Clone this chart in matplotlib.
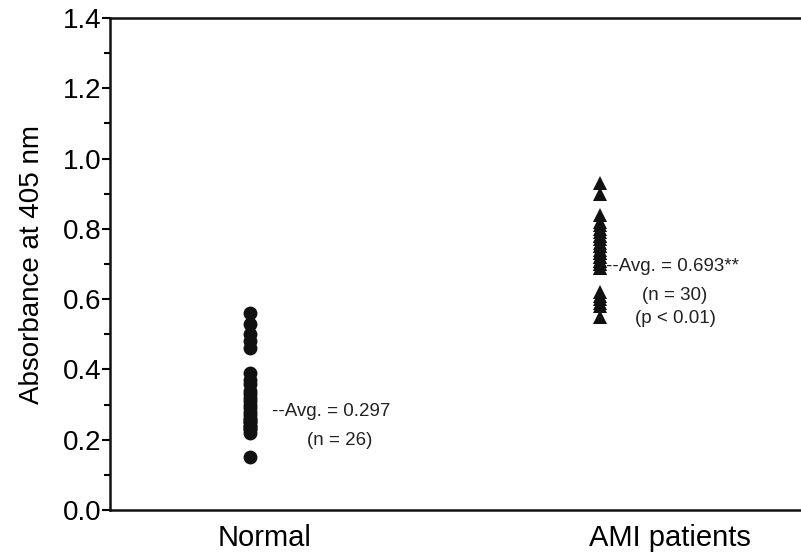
import matplotlib.pyplot as plt

plt.rcParams['font.family'] = ['Liberation Sans', 'DejaVu Sans']

# ==========================================================
# Data
# ==========================================================

groups = ["Normal", "AMI patients"]

normal_values = [
    0.56, 0.53, 0.50, 0.48, 0.46,
    0.39, 0.37, 0.36, 0.34, 0.33, 0.32, 0.31, 0.30, 0.29, 0.28,
    0.27, 0.26, 0.26, 0.25, 0.25, 0.24, 0.24, 0.23, 0.23, 0.22,
    0.15,
]

ami_values = [
    0.93, 0.90,
    0.84, 0.82, 0.81, 0.80, 0.79, 0.78, 0.78, 0.77, 0.76, 0.75, 0.75,
    0.74, 0.73, 0.73, 0.72, 0.72, 0.71, 0.71, 0.70, 0.70, 0.69, 0.69,
    0.62, 0.61, 0.60, 0.59, 0.58, 0.55,
]

normal_avg = 0.297
ami_avg = 0.693

normal_notes = ["--Avg. = 0.297", "(n = 26)"]
ami_notes = ["--Avg. = 0.693**", "(n = 30)", "(p < 0.01)"]

# ==========================================================
# Plot
# ==========================================================

fig = plt.figure(figsize=(8.01, 5.58), dpi=100)
ax = fig.add_axes([0.1373, 0.086, 0.8627, 0.8817])

ax.plot([1] * len(normal_values), normal_values, "o",
        color="#111111", markersize=10, markeredgewidth=0)
ax.plot([2] * len(ami_values), ami_values, "^",
        color="#111111", markersize=10, markeredgewidth=0)

# annotations
ax.text(1.063, normal_avg - 0.018, normal_notes[0], fontsize=13.5,
        ha="left", va="center", color="#222222")
ax.text(1.257, normal_avg - 0.018 - 0.08, normal_notes[1], fontsize=13.5,
        ha="center", va="center", color="#222222")

ax.text(2.017, ami_avg, ami_notes[0], fontsize=13.5,
        ha="left", va="center", color="#222222")
ax.text(2.214, ami_avg - 0.083, ami_notes[1], fontsize=13.5,
        ha="center", va="center", color="#222222")
ax.text(2.214, ami_avg - 0.148, ami_notes[2], fontsize=13.5,
        ha="center", va="center", color="#222222")

ax.set_xlim(0.6, 2.574)
ax.set_ylim(0, 1.4)

ax.set_xticks([1.043, 2.2])
ax.set_xticklabels(groups, fontsize=21)
ax.tick_params(axis="x", length=0, pad=10)

ax.set_yticks([0.0, 0.2, 0.4, 0.6, 0.8, 1.0, 1.2, 1.4])
ax.set_yticklabels(["0.0", "0.2", "0.4", "0.6", "0.8", "1.0", "1.2", "1.4"],
                   fontsize=20)
ax.set_yticks([0.1, 0.3, 0.5, 0.7, 0.9, 1.1, 1.3], minor=True)
ax.tick_params(axis="y", which="major", direction="out", length=6, width=1.5,
               pad=0)
ax.tick_params(axis="y", which="minor", direction="out", length=4, width=1.5)

ax.set_ylabel("Absorbance at 405 nm", fontsize=20, labelpad=13)

ax.spines["right"].set_visible(False)
for side in ["left", "top", "bottom"]:
    ax.spines[side].set_linewidth(1.8)
    ax.spines[side].set_color("#111111")

fig.savefig("out.png", dpi=100)
plt.close()
